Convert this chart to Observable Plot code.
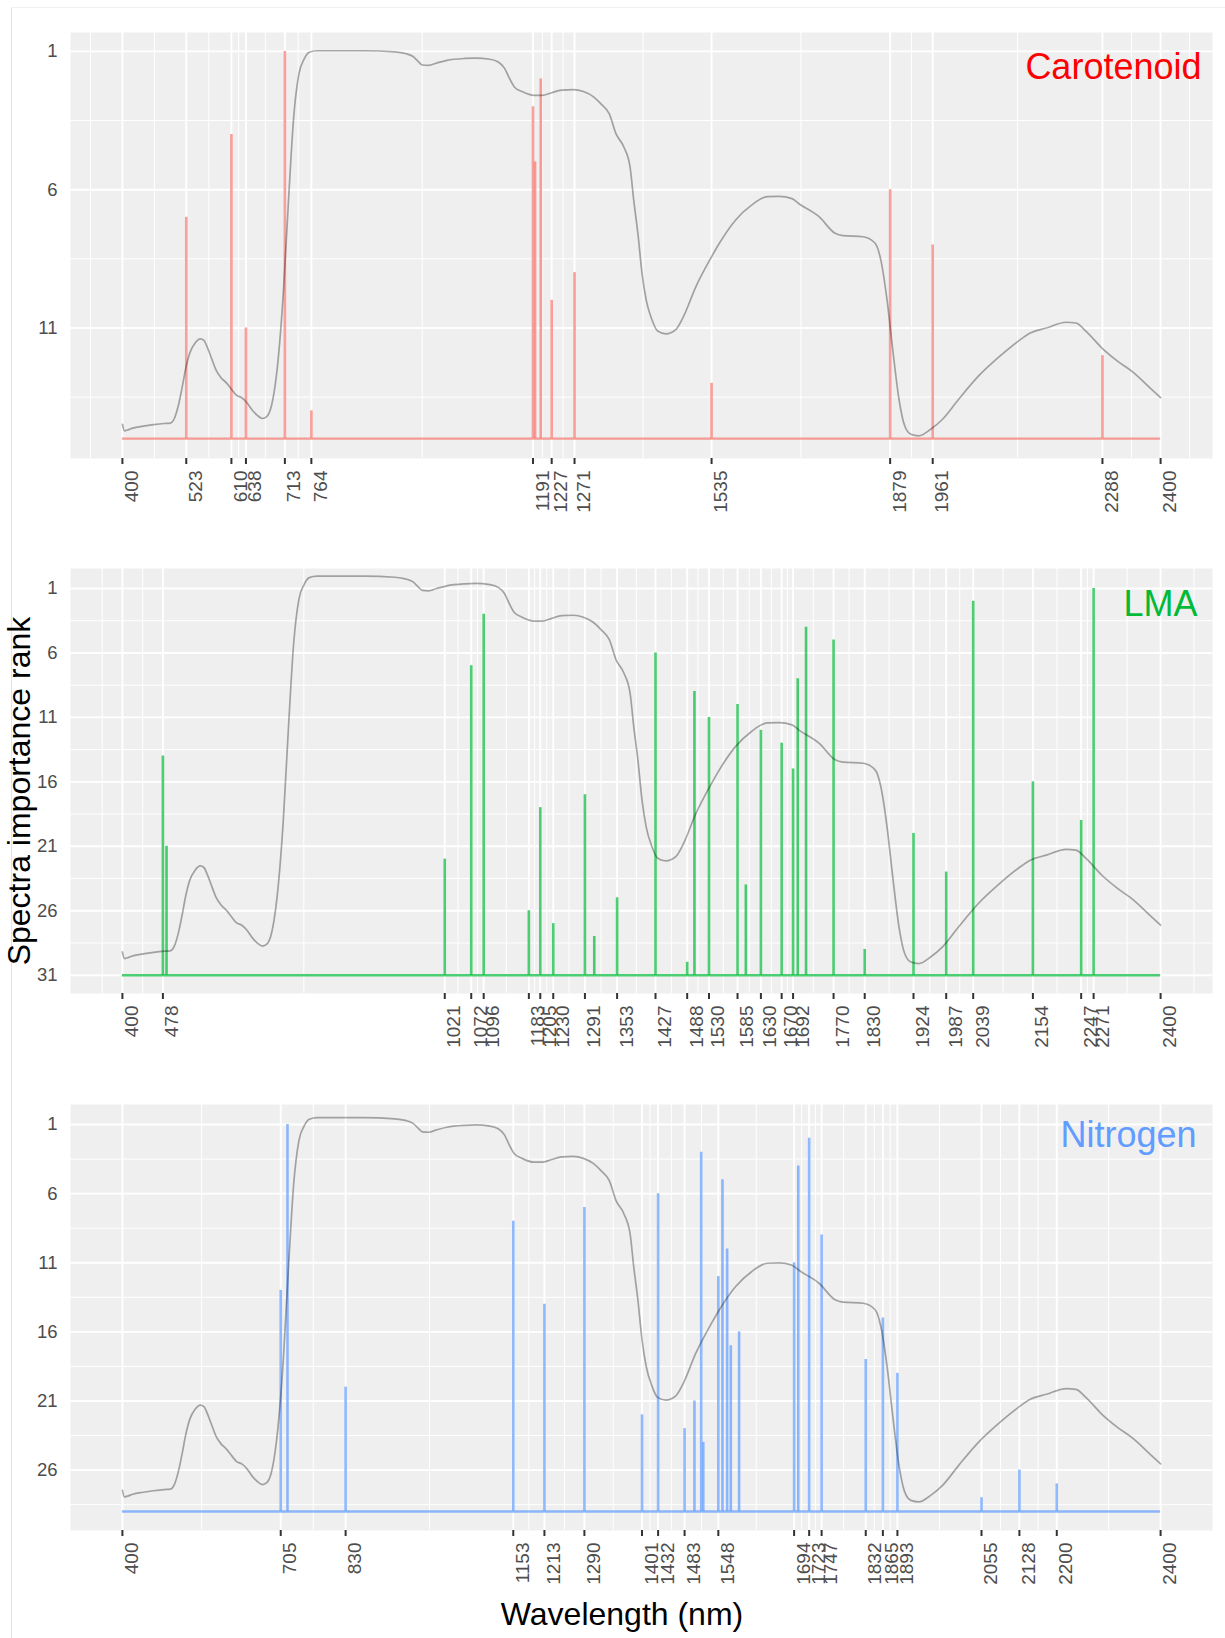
<!DOCTYPE html>
<html>
<head>
<meta charset="utf-8">
<script src="https://cdn.jsdelivr.net/npm/d3@7"></script>
<script src="https://cdn.jsdelivr.net/npm/@observablehq/plot@0.6"></script>
<style>
  html, body { margin: 0; padding: 0; background: #ffffff; }
  #root { position: relative; width: 1225px; height: 1638px; overflow: hidden; background: #ffffff;
          font-family: "Liberation Sans", Arial, Helvetica, sans-serif; }
  #root svg { position: absolute; left: 0; }
  .ylab { position: absolute; left: -281.5px; top: 775px; width: 600px; height: 32px; line-height: 32px;
          font-size: 32px; color: #000; text-align: center; transform: rotate(-90deg); transform-origin: 50% 50%; white-space: nowrap; }
  .xlab { position: absolute; left: 322px; top: 1598px; width: 600px; height: 32px; line-height: 32px;
          font-size: 32px; color: #000; text-align: center; white-space: nowrap; }
  .edgeV { position: absolute; left: 11px; top: 7px; width: 1px; height: 1631px; background: #e4e4e4; }
  .edgeH { position: absolute; left: 11px; top: 7px; width: 1214px; height: 1px; background: #f2f2f2; }
</style>
</head>
<body>
<div id="root">
  <div class="edgeV"></div>
  <div class="edgeH"></div>
  <div class="ylab">Spectra importance rank</div>
  <div class="xlab">Wavelength (nm)</div>
</div>
<script>
// ---- Leaf reflectance spectrum (normalised 0..1) ----
const spectrumNm = [400,404,410,420,440,460,480,492,500,508,515,522,530,540,550,557,565,572,580,590,600,610,620,630,640,650,660,670,678,686,693,700,710,720,730,740,750,760,775,865,925,945,960,970,978,990,1005,1025,1060,1080,1108,1124,1136,1145,1155,1170,1193,1208,1227,1246,1269,1288,1307,1322,1338,1351,1366,1378,1385,1393,1401,1409,1420,1431,1447,1466,1481,1504,1535,1550,1581,1612,1642,1665,1690,1704,1742,1773,1788,1827,1850,1861,1873,1884,1896,1907,1919,1934,1957,1980,2011,2049,2087,2126,2149,2180,2218,2237,2256,2287,2317,2348,2379,2400];
const spectrumValue = [0.030,0.013,0.015,0.020,0.025,0.029,0.032,0.033,0.045,0.080,0.125,0.175,0.216,0.241,0.252,0.248,0.225,0.200,0.172,0.151,0.138,0.121,0.105,0.099,0.086,0.067,0.053,0.045,0.050,0.072,0.120,0.198,0.371,0.612,0.828,0.940,0.978,0.996,1.000,1.000,0.997,0.993,0.985,0.972,0.963,0.962,0.968,0.975,0.980,0.981,0.978,0.971,0.955,0.930,0.906,0.894,0.884,0.884,0.891,0.898,0.899,0.894,0.881,0.862,0.836,0.784,0.750,0.698,0.612,0.526,0.422,0.353,0.302,0.272,0.265,0.276,0.310,0.385,0.465,0.500,0.560,0.599,0.621,0.622,0.616,0.602,0.569,0.526,0.520,0.517,0.500,0.457,0.353,0.224,0.095,0.026,0.004,0.000,0.017,0.043,0.095,0.155,0.203,0.246,0.267,0.280,0.295,0.293,0.272,0.228,0.194,0.164,0.125,0.099];

// ---- Carotenoid ----
const carotenoidWavelength = [713,1206,1191,610,1195,1879,523,1961,1271,1227,638,2288,1535,764];
const carotenoidRank       = [1,2,3,4,5,6,7,8,9,10,11,12,13,14];
const carotenoidXTicks = [400,523,610,638,713,764,1191,1227,1271,1535,1879,1961,2288,2400];
const carotenoidYTicks = [1,6,11];

// ---- LMA ----
const lmaWavelength = [2271,2039,1096,1717,1770,1427,1072,1701,1502,1585,1530,1630,1670,478,1692,2154,1291,1205,2247,1924,485,1021,1987,1601,1353,1183,1230,1309,1830,1488];
const lmaRank       = [1,2,3,4,5,6,7,8,9,10,11,12,13,14,15,16,17,18,19,20,21,22,23,24,25,26,27,28,29,30];
const lmaXTicks = [400,478,1021,1072,1096,1183,1205,1230,1291,1353,1427,1488,1530,1585,1630,1670,1692,1770,1830,1924,1987,2039,2154,2247,2271,2400];
const lmaYTicks = [1,6,11,16,21,26,31];

// ---- Nitrogen ----
const nitrogenWavelength = [718,1723,1515,1702,1556,1432,1290,1153,1747,1565,1694,1548,705,1213,1865,1588,1572,1832,1893,830,1502,1401,1483,1519,2128,2200,2055];
const nitrogenRank       = [1,2,3,4,5,6,7,8,9,10,11,12,13,14,15,16,17,18,19,20,21,22,23,24,26,27,28];
const nitrogenXTicks = [400,705,830,1153,1213,1290,1401,1432,1483,1548,1694,1723,1747,1832,1865,1893,2055,2128,2200,2400];
const nitrogenYTicks = [1,6,11,16,21,26];

const panels = [
  { title: "Carotenoid", titleColor: "#FF0000", barColor: "#F8766D",
    wavelength: carotenoidWavelength, rank: carotenoidRank, xTicks: carotenoidXTicks, yTicks: carotenoidYTicks,
    baseline: 15, yDomain: [0.316, 15.72], curveTop: 0.976, curveBottom: 14.9,
    panelTop: 32, panelBottom: 458, titleDx: -11, titleDy: 46 },
  { title: "LMA", titleColor: "#00BA38", barColor: "#00BA38",
    wavelength: lmaWavelength, rank: lmaRank, xTicks: lmaXTicks, yTicks: lmaYTicks,
    baseline: 31, yDomain: [-0.55, 32.42], curveTop: 0.04, curveBottom: 30.1,
    panelTop: 568, panelBottom: 993, titleDx: -15, titleDy: 47 },
  { title: "Nitrogen", titleColor: "#619CFF", barColor: "#619CFF",
    wavelength: nitrogenWavelength, rank: nitrogenRank, xTicks: nitrogenXTicks, yTicks: nitrogenYTicks,
    baseline: 29, yDomain: [-0.45, 30.37], curveTop: 0.5, curveBottom: 28.3,
    panelTop: 1104, panelBottom: 1530, titleDx: -16, titleDy: 42 }
];

const root = document.getElementById("root");
const XDOMAIN = [300, 2500];

for (const cfg of panels) {
  const marginTop = 30, marginBottom = 70;
  const height = marginTop + (cfg.panelBottom - cfg.panelTop) + marginBottom;
  const bars = cfg.wavelength.map((w, i) => ({w, rank: cfg.rank[i]}));
  const curve = spectrumNm.map((w, i) => ({w, r: cfg.curveBottom - spectrumValue[i] * (cfg.curveBottom - cfg.curveTop)}));
  const xt = cfg.xTicks, n = xt.length;
  const minorX = [xt[0] - (xt[1] - xt[0]) / 2, ...d3.pairs(xt).map(([a, b]) => (a + b) / 2), xt[n - 1] + (xt[n - 1] - xt[n - 2]) / 2]
    .filter(v => v > XDOMAIN[0] && v < XDOMAIN[1]);
  const yt = cfg.yTicks, m = yt.length;
  const minorY = [yt[0] - 2.5, ...d3.pairs(yt).map(([a, b]) => (a + b) / 2), yt[m - 1] + 2.5]
    .filter(v => v > cfg.yDomain[0] && v < cfg.yDomain[1]);

  const svg = Plot.plot({
    width: 1225, height,
    marginLeft: 70, marginRight: 13, marginTop, marginBottom,
    x: {domain: XDOMAIN},
    y: {domain: cfg.yDomain, reverse: true},
    style: {fontFamily: '"Liberation Sans", Arial, Helvetica, sans-serif', color: "#4D4D4D", background: "transparent", overflow: "visible"},
    marks: [
      Plot.frame({fill: "#EFEFEF", stroke: "none"}),
      Plot.ruleY(minorY, {stroke: "#ffffff", strokeWidth: 1}),
      Plot.ruleX(minorX, {stroke: "#ffffff", strokeWidth: 1}),
      Plot.ruleY(yt, {stroke: "#ffffff", strokeWidth: 1.9}),
      Plot.ruleX(xt, {stroke: "#ffffff", strokeWidth: 1.9}),
      Plot.ruleY([cfg.baseline], {x1: 400, x2: 2400, stroke: cfg.barColor, strokeOpacity: 0.7, strokeWidth: 2.4}),
      Plot.ruleX(bars, {x: "w", y1: cfg.baseline, y2: "rank", stroke: cfg.barColor, strokeOpacity: 0.7, strokeWidth: 2.6}),
      Plot.line(curve, {x: "w", y: "r", stroke: "#000000", strokeOpacity: 0.33, strokeWidth: 1.7, curve: "monotone-x"}),
      Plot.axisY({ticks: yt, tickSize: 0, tickPadding: 13, fontSize: 18.5, fill: "#4D4D4D", label: null, tickFormat: d => String(d)}),
      Plot.axisX({ticks: xt, tickSize: 6, tickFormat: () => "", label: null, stroke: "#333333", strokeWidth: 2}),
      Plot.text(xt, {x: d => d, text: d => String(d), frameAnchor: "bottom", rotate: -90,
                     textAnchor: "end", lineAnchor: "bottom", dx: 15.5, dy: 12, fontSize: 19, fill: "#4D4D4D"}),
      Plot.text([cfg.title], {frameAnchor: "top-right", text: d => d, textAnchor: "end", lineAnchor: "bottom",
                     dx: cfg.titleDx, dy: cfg.titleDy, fontSize: 36, fill: cfg.titleColor})
    ]
  });
  svg.style.top = (cfg.panelTop - marginTop) + "px";
  root.appendChild(svg);
}
</script>
</body>
</html>
